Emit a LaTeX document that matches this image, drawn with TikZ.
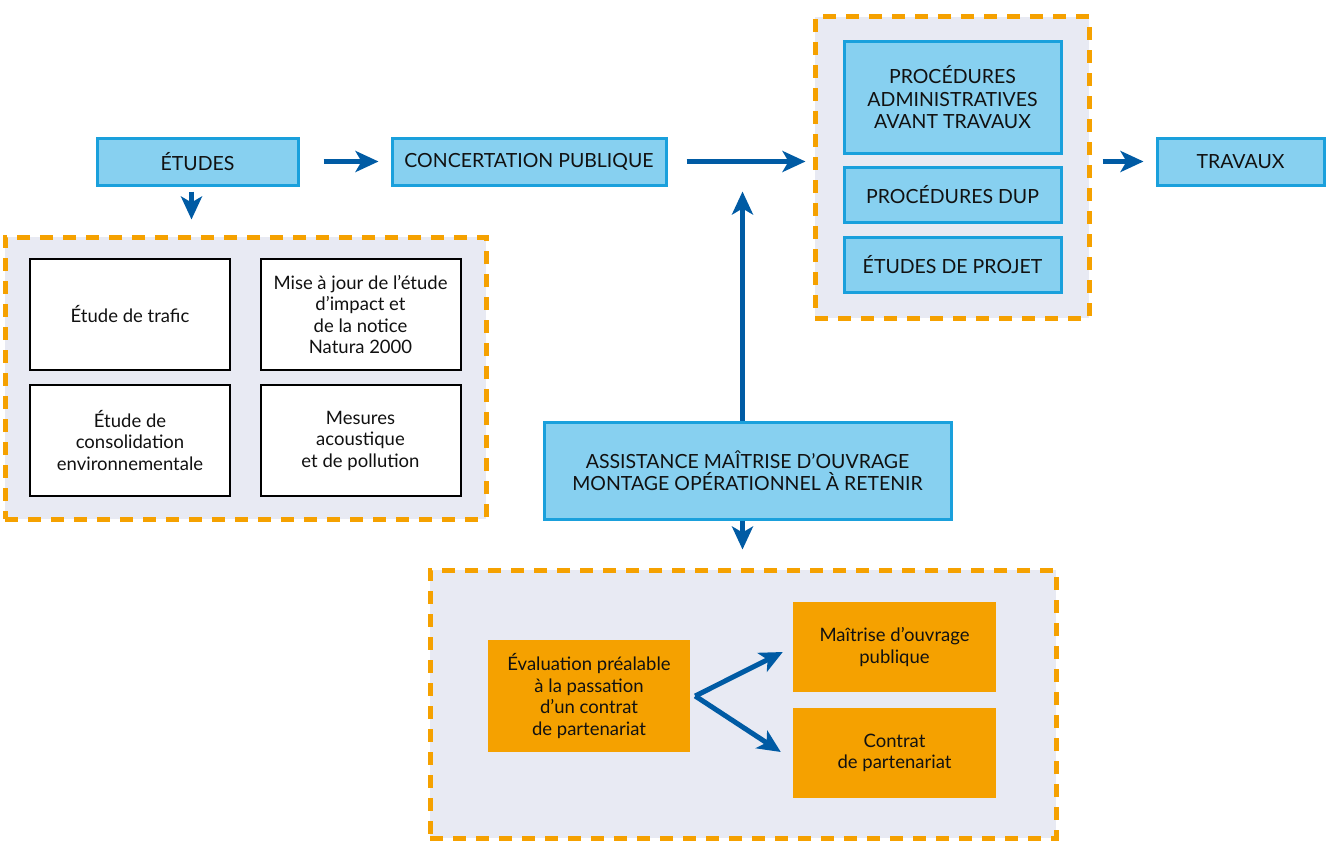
\documentclass[tikz,border=0pt]{standalone}
\usepackage{fontspec}
\setmainfont{Lato}
\usetikzlibrary{arrows.meta}
\definecolor{bleuclair}{HTML}{87D0F0}
\definecolor{bleubord}{HTML}{1AA0DC}
\definecolor{bleufleche}{HTML}{005BA4}
\definecolor{orange}{HTML}{F5A100}
\definecolor{fondgris}{HTML}{E8EAF3}
\definecolor{texte}{HTML}{111111}
\tikzset{
  etape/.style={draw=bleubord, fill=bleuclair, line width=3pt, align=center, text=texte,
    font=\fontsize{19.5}{22.5}\selectfont, inner sep=0pt},
  tache/.style={draw=black, fill=white, line width=2pt, align=center, text=texte,
    font=\fontsize{18.5}{21.5}\selectfont, inner sep=0pt, minimum width=200pt, minimum height=111pt},
  option/.style={fill=orange, align=center, text=texte,
    font=\fontsize{18.5}{21.5}\selectfont, inner sep=0pt, minimum width=203pt},
  groupe/.style={draw=orange, fill=fondgris, line width=5pt, dash pattern=on 13pt off 10pt, inner sep=0pt},
  fleche/.style={draw=bleufleche, line width=5pt, -{Stealth[length=23pt, width=21pt, inset=6pt]}},
}
\begin{document}
\begin{tikzpicture}[x=1pt, y=-1pt]
    \useasboundingbox (0,0) rectangle (1332,840);
    % groupes en pointilles
    \node[groupe, minimum width=274pt, minimum height=301pt] (grpavant) at (952,167.5) {};
    \node[groupe, minimum width=481pt, minimum height=282pt] (grpetudes) at (245.5,378) {};
    \node[groupe, minimum width=626pt, minimum height=268pt] (grpmontage) at (743,704) {};
    % chaine principale
    \node[etape, minimum width=201pt, minimum height=47pt] (etudes) at (197.5,161.5) {ÉTUDES};
    \node[etape, minimum width=274pt, minimum height=47pt] (concertation) at (529,161.5) {CONCERTATION PUBLIQUE};
    \node[etape, minimum width=167pt, minimum height=47pt] (travaux) at (1240.5,161.5) {TRAVAUX};
    \node[etape, minimum width=217pt, minimum height=111pt] (procadm) at (952.5,97.5) {PROCÉDURES\\ADMINISTRATIVES\\AVANT TRAVAUX};
    \node[etape, minimum width=217pt, minimum height=55pt] (procdup) at (952.5,194.5) {PROCÉDURES DUP};
    \node[etape, minimum width=217pt, minimum height=55pt] (etproj) at (952.5,264.5) {ÉTUDES DE PROJET};
    \node[etape, minimum width=407pt, minimum height=97pt] (assistance) at (747.5,470.5) {ASSISTANCE MAÎTRISE D’OUVRAGE\\MONTAGE OPÉRATIONNEL À RETENIR};
    % etudes
    \node[tache] (trafic) at (130,314.5) {Étude de trafic};
    \node[tache] (majour) at (360.5,314.5) {Mise à jour de l’étude\\d’impact et\\de la notice\\Natura 2000};
    \node[tache] (consolidation) at (130,440.5) {Étude de\\consolidation\\environnementale};
    \node[tache] (mesures) at (360.5,440.5) {Mesures\\acoustique\\et de pollution};
    % montage
    \node[option, minimum width=202pt, minimum height=112pt] (evaluation) at (589,696) {Évaluation préalable\\à la passation\\d’un contrat\\de partenariat};
    \node[option, minimum height=90pt] (moapublique) at (894.5,647) {Maîtrise d’ouvrage\\publique};
    \node[option, minimum height=90pt] (contrat) at (894.5,753) {Contrat\\de partenariat};
    % fleches
    \draw[fleche, shorten <=24pt, shorten >=12pt] (etudes) -- (concertation);
    \draw[fleche, shorten <=19pt, shorten >=7pt] (concertation.east) -- (grpavant.west |- concertation.east);
    \draw[fleche, shorten <=11pt, shorten >=12pt] (grpavant.east |- travaux.west) -- (travaux.west);
    \draw[fleche, shorten <=5pt, shorten >=15pt] ([xshift=-6pt]etudes.south) -- ([xshift=-6pt]etudes.south |- grpetudes.north);
    \coordinate (cible) at ([xshift=-5pt]assistance.north |- concertation.south);
    \draw[fleche, shorten >=5pt] ([xshift=-5pt]assistance.north) -- (cible);
    \draw[fleche, shorten >=18pt] ([xshift=-5pt]assistance.south) -- ([xshift=-5pt]assistance.south |- grpmontage.north);
    \coordinate (fourche) at ([xshift=5pt]evaluation.east);
    \draw[fleche, line join=round] (fourche) -- ([xshift=-10pt, yshift=-5pt]moapublique.west);
    \draw[fleche, line join=round] (fourche) -- ([xshift=-12pt, yshift=1pt]contrat.west);
\end{tikzpicture}
\end{document}
